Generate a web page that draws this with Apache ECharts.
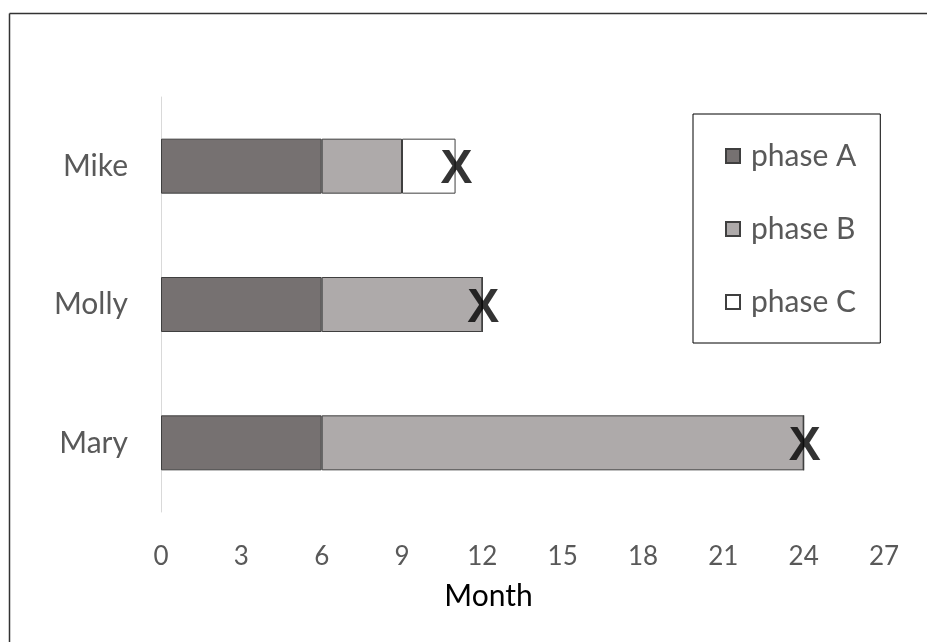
<!DOCTYPE html>
<html>
<head>
<meta charset="utf-8">
<script src="https://cdn.jsdelivr.net/npm/echarts@6/dist/echarts.min.js"></script>
<style>
  html, body { margin: 0; padding: 0; background: #fff; }
  #chart { width: 927px; height: 642px; }
</style>
</head>
<body>
<div id="chart"></div>
<script>
// People, listed bottom to top on the category axis
const people = ['Mary', 'Molly', 'Mike'];
// Months spent in each phase
const phaseA = [6, 6, 6];
const phaseB = [18, 6, 3];
const phaseC = [0, 0, 2];
const phaseNames = ['phase A', 'phase B', 'phase C'];
const monthTicks = [0, 3, 6, 9, 12, 15, 18, 21, 24, 27];

// End of the last phase for each person, marked with an "X"
const endMonths = people.map((p, i) => phaseA[i] + phaseB[i] + phaseC[i]);

const font = 'Lato, "Open Sans", sans-serif';
const textGray = '#595959';
const edge = '#3f3f3f';

const chart = echarts.init(document.getElementById('chart'));

function phaseSeries(name, data, color) {
  return {
    name: name,
    type: 'bar',
    stack: 'phases',
    data: data,
    barWidth: 55,
    itemStyle: { color: color, borderColor: edge, borderWidth: 1 },
    emphasis: { disabled: true },
    silent: true
  };
}

chart.setOption({
  animation: false,
  backgroundColor: '#fff',
  grid: { left: 161, right: 43, top: 97, bottom: 130, containLabel: false },
  xAxis: {
    type: 'value',
    min: monthTicks[0],
    max: monthTicks[monthTicks.length - 1],
    interval: 3,
    name: 'Month',
    nameLocation: 'middle',
    nameGap: 69,
    nameTextStyle: { color: '#000', fontSize: 30, fontFamily: font, padding: [0, 68, 0, 0] },
    axisLine: { show: false },
    axisTick: { show: false },
    splitLine: { show: false },
    axisLabel: { color: textGray, fontSize: 26, fontFamily: font, margin: 32 }
  },
  yAxis: {
    type: 'category',
    data: people,
    axisLine: { show: true, lineStyle: { color: '#d9d9d9', width: 1 } },
    axisTick: { show: false },
    axisLabel: { color: textGray, fontSize: 30, fontFamily: font, margin: 33 }
  },
  legend: {
    orient: 'vertical',
    left: 693,
    top: 114,
    data: phaseNames,
    icon: 'rect',
    itemWidth: 14,
    itemHeight: 14,
    itemGap: 43,
    padding: [27, 24, 26, 32],
    borderColor: '#000',
    borderWidth: 1,
    selectedMode: false,
    textStyle: { color: textGray, fontSize: 30, fontFamily: font, lineHeight: 29, padding: [0, 0, 0, 6] }
  },
  graphic: [
    { type: 'line', shape: { x1: 9.5, y1: 13.5, x2: 927, y2: 13.5 }, style: { stroke: '#333', lineWidth: 1.5 } },
    { type: 'line', shape: { x1: 9.5, y1: 13.5, x2: 9.5, y2: 642 }, style: { stroke: '#333', lineWidth: 1.5 } }
  ],
  series: [
    phaseSeries(phaseNames[0], phaseA, '#767171'),
    phaseSeries(phaseNames[1], phaseB, '#aeaaaa'),
    phaseSeries(phaseNames[2], phaseC, '#ffffff'),
    {
      type: 'scatter',
      data: endMonths.map((m, i) => [m, people[i]]),
      symbolSize: 1,
      itemStyle: { color: 'rgba(0,0,0,0)' },
      silent: true,
      z: 5,
      label: {
        show: true,
        position: 'inside',
        formatter: 'X',
        offset: [1, 4],
        color: '#000',
        fontSize: 48,
        fontWeight: 'bold',
        fontFamily: '"Liberation Sans", Arial, sans-serif'
      }
    }
  ]
});
</script>
</body>
</html>
